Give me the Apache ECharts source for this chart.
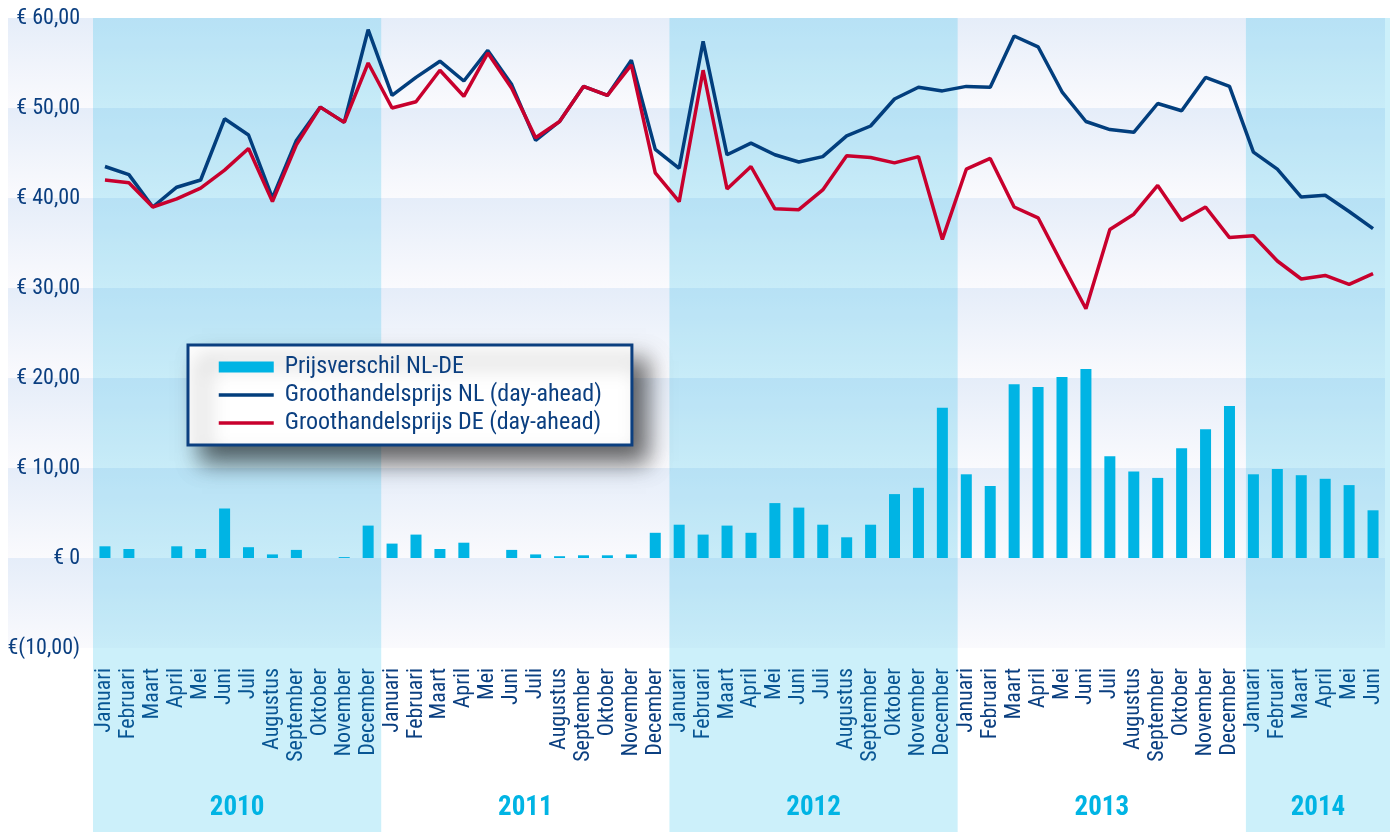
<!DOCTYPE html>
<html>
<head>
<meta charset="utf-8">
<script src="https://cdn.jsdelivr.net/npm/echarts@6/dist/echarts.min.js"></script>
<style>
  html, body { margin: 0; padding: 0; background: #fff; }
  #chart { width: 1393px; height: 832px; }
</style>
</head>
<body>
<div id="chart"></div>
<script>
// month names (Dutch) and years shown under the axis
var monthNames = ['Januari', 'Februari', 'Maart', 'April', 'Mei', 'Juni', 'Juli',
  'Augustus', 'September', 'Oktober', 'November', 'December'];
var years = ['2010', '2011', '2012', '2013', '2014'];
var monthsPerYear = [12, 12, 12, 12, 6];

// Prijsverschil NL-DE (bars)
var priceDiff = [
  1.3, 1.0, 0, 1.3, 1.0, 5.5, 1.2, 0.4, 0.9, 0, 0.1, 3.6,
  1.6, 2.6, 1.0, 1.7, 0, 0.9, 0.4, 0.2, 0.3, 0.3, 0.4, 2.8,
  3.7, 2.6, 3.6, 2.8, 6.1, 5.6, 3.7, 2.3, 3.7, 7.1, 7.8, 16.7,
  9.3, 8.0, 19.3, 19.0, 20.1, 21.0, 11.3, 9.6, 8.9, 12.2, 14.3, 16.9,
  9.3, 9.9, 9.2, 8.8, 8.1, 5.3
];

// Groothandelsprijs NL (day-ahead)
var priceNL = [
  43.5, 42.6, 39.0, 41.2, 42.0, 48.8, 47.0, 40.0, 46.4, 50.1, 48.4, 58.7,
  51.4, 53.4, 55.2, 53.0, 56.4, 52.6, 46.4, 48.5, 52.4, 51.4, 55.3, 45.4,
  43.3, 57.4, 44.8, 46.1, 44.8, 44.0, 44.6, 46.9, 48.0, 51.0, 52.3, 51.9,
  52.4, 52.3, 58.0, 56.8, 51.8, 48.5, 47.6, 47.3, 50.5, 49.7, 53.4, 52.4,
  45.1, 43.2, 40.1, 40.3, 38.5, 36.6
];

// Groothandelsprijs DE (day-ahead)
var priceDE = [
  42.0, 41.7, 39.0, 39.9, 41.1, 43.1, 45.5, 39.6, 45.9, 50.1, 48.4, 55.0,
  50.0, 50.7, 54.2, 51.3, 56.1, 52.2, 46.7, 48.5, 52.4, 51.4, 54.8, 42.8,
  39.6, 54.2, 41.0, 43.5, 38.8, 38.7, 40.9, 44.7, 44.5, 43.9, 44.6, 35.4,
  43.2, 44.4, 39.0, 37.8, 32.7, 27.7, 36.5, 38.2, 41.4, 37.5, 39.0, 35.6,
  35.8, 33.0, 31.0, 31.4, 30.4, 31.6
];

var categories = [];
var yearAt = {};
var yearAreas = [];
var start = 0;
years.forEach(function (y, k) {
  for (var m = 0; m < monthsPerYear[k]; m++) categories.push(monthNames[m]);
  yearAt[start + monthsPerYear[k] / 2] = y;
  if (k % 2 === 0) {
    yearAreas.push([{ xAxis: start, yAxis: 0 }, { xAxis: start + monthsPerYear[k], yAxis: 1 }]);
  }
  start += monthsPerYear[k];
});

var NAVY = '#0b3f80';
var FONT = "'Liberation Sans Narrow', 'Roboto Condensed', 'DejaVu Sans Condensed', sans-serif";

function euro(v) {
  if (v === 0) return '€ 0';
  var s = Math.abs(v).toFixed(2).replace('.', ',');
  return v < 0 ? '€(' + s + ')' : '€ ' + s;
}

var chart = echarts.init(document.getElementById('chart'));

chart.setOption({
  animation: false,
  textStyle: { fontFamily: FONT },
  grid: [
    // horizontal bands, running under the y labels too
    { left: 8, right: 8, top: 18, height: 630 },
    // year columns, down to the bottom edge
    { left: 93, right: 0, top: 18, bottom: 0 },
    // the chart itself
    { left: 93, right: 8, top: 18, height: 630 }
  ],
  xAxis: [
    { gridIndex: 0, type: 'value', min: 0, max: 1, show: false },
    {
      gridIndex: 1, type: 'value', min: 0, max: 54, interval: 3, z: 6,
      axisLine: { show: false }, axisTick: { show: false }, splitLine: { show: false },
      axisLabel: {
        inside: true, margin: 10,
        color: '#00b4e4', fontSize: 27, fontWeight: 'bold', fontFamily: FONT,
        formatter: function (v) { return yearAt[v] || ''; }
      }
    },
    {
      gridIndex: 2, type: 'category', data: categories,
      axisLine: { show: false }, axisTick: { show: false },
      axisLabel: {
        interval: 0, rotate: 90, margin: 20,
        color: NAVY, fontSize: 22, fontFamily: FONT
      }
    }
  ],
  yAxis: [
    {
      gridIndex: 0, type: 'value', min: -10, max: 60, interval: 10,
      axisLine: { show: false }, axisTick: { show: false }, axisLabel: { show: false },
      splitLine: { show: false },
      splitArea: {
        show: true,
        areaStyle: {
          color: [{
            type: 'linear', x: 0, y: 0, x2: 0, y2: 1,
            colorStops: [{ offset: 0, color: '#e5edf9' }, { offset: 1, color: '#fafafd' }]
          }]
        }
      }
    },
    { gridIndex: 1, type: 'value', min: 0, max: 1, show: false },
    {
      gridIndex: 2, type: 'value', min: -10, max: 60, interval: 10,
      axisLine: { show: false }, axisTick: { show: false }, splitLine: { show: false },
      axisLabel: { color: NAVY, fontSize: 22, margin: 13, fontFamily: FONT, formatter: euro }
    }
  ],
  legend: {
    data: [
      { name: 'Prijsverschil NL-DE', icon: 'rect' },
      { name: 'Groothandelsprijs NL (day-ahead)', itemStyle: { opacity: 0 } },
      { name: 'Groothandelsprijs DE (day-ahead)', itemStyle: { opacity: 0 } }
    ],
    orient: 'vertical',
    left: 188, top: 345,
    z: 10,
    padding: [10, 30, 10, 29],
    itemWidth: 55, itemHeight: 11, itemGap: 4,
    lineStyle: { width: 3.5 },
    backgroundColor: '#fff',
    borderColor: NAVY, borderWidth: 3, borderRadius: 0,
    shadowColor: 'rgba(0,0,0,0.6)', shadowBlur: 22, shadowOffsetX: 14, shadowOffsetY: 16,
    textStyle: { color: NAVY, fontSize: 24, lineHeight: 24, fontFamily: FONT, padding: [0, 0, 0, 6] }
  },
  series: [
    {
      name: 'years', type: 'line', xAxisIndex: 1, yAxisIndex: 1, data: [],
      z: 1, silent: true,
      markArea: {
        silent: true,
        itemStyle: { color: 'rgba(0,180,228,0.2)' },
        data: yearAreas
      }
    },
    {
      name: 'Prijsverschil NL-DE', type: 'bar', xAxisIndex: 2, yAxisIndex: 2,
      data: priceDiff, barWidth: 11, z: 3,
      itemStyle: { color: '#00b4e4' }
    },
    {
      name: 'Groothandelsprijs NL (day-ahead)', type: 'line', xAxisIndex: 2, yAxisIndex: 2,
      data: priceNL, symbol: 'none', z: 4,
      lineStyle: { color: '#023e7d', width: 3.5 },
      itemStyle: { color: '#023e7d' }
    },
    {
      name: 'Groothandelsprijs DE (day-ahead)', type: 'line', xAxisIndex: 2, yAxisIndex: 2,
      data: priceDE, symbol: 'none', z: 4,
      lineStyle: { color: '#c8002d', width: 3.5 },
      itemStyle: { color: '#c8002d' }
    }
  ]
});
</script>
</body>
</html>
